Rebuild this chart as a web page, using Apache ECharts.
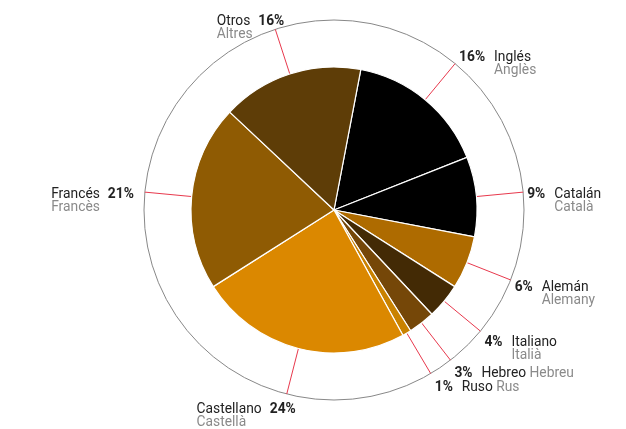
<!DOCTYPE html>
<html>
<head>
<meta charset="utf-8">
<script src="https://cdn.jsdelivr.net/npm/echarts@6/dist/echarts.min.js"></script>
<style>
html,body{margin:0;padding:0;background:#fff;}
#chart{width:626px;height:429px;}
</style>
</head>
<body>
<div id="chart"></div>
<script>
// ---- data ----
const names   = ['Inglés','Catalán','Alemán','Italiano','Hebreo','Ruso','Castellano','Francés','Otros'];
const namesCa = ['Anglès','Català','Alemany','Italià','Hebreu','Rus','Castellà','Francès','Altres'];
const values  = [16, 9, 6, 4, 3, 1, 24, 21, 16];
const colors  = ['#000000','#000000','#ae6b00','#432a05','#754708','#c98200','#db8800','#8f5b03','#5e3d07'];
const singleLine = ['Hebreo','Ruso'];

// ---- layout ----
const CX = 334, CY = 210, R_PIE = 143, R_RING = 190;
const START = 79.2;
const total = values.reduce((a,b)=>a+b,0);
const rightSide = [];
(function(){
  let cum = 0;
  for (let i=0;i<values.length;i++){
    const midClock = (90 - START) + (cum + values[i]/2)/total*360;
    rightSide.push(Math.sin(midClock*Math.PI/180) > 0);
    cum += values[i];
  }
})();

const chart = echarts.init(document.getElementById('chart'), null, {renderer:'canvas'});
const FONT = 'Roboto';
const FS = 13.8;
const LH = 13;
const option = {
  animation: false,
  backgroundColor: '#ffffff',
  series: [
    {
      type: 'pie', silent: true, z: 1,
      center: [CX, CY], radius: [0, R_RING],
      label: {show:false}, labelLine: {show:false},
      emphasis: {disabled:true},
      itemStyle: {color:'rgba(0,0,0,0)', borderColor:'#888', borderWidth:1},
      data: [{value:1, name:'ring'}]
    },
    {
      type: 'pie', z: 2,
      center: [CX, CY], radius: [0, R_PIE],
      startAngle: START, clockwise: true,
      avoidLabelOverlap: false,
      emphasis: {disabled:true},
      itemStyle: {borderColor:'#ffffff', borderWidth:1.2},
      labelLine: {show:true, length: R_RING - R_PIE, length2: 0, smooth:false, minTurnAngle: 0,
        lineStyle:{color:'#e8394d', width:1}},
      label: {
        show: true, position: 'outside',
        fontFamily: FONT, fontSize: FS, lineHeight: LH, color:'#222',
        formatter: function(p){
          const i = p.dataIndex;
          const pct = values[i] + '%';
          const two = pct.length > 2;
          if (rightSide[i]) {
            if (singleLine.indexOf(names[i]) >= 0) {
              return '{' + (two?'p2':'p1') + '|' + pct + '}{n|' + names[i] + '} {c|' + namesCa[i] + '}';
            }
            return '{' + (two?'p2':'p1') + '|' + pct + '}{n|' + names[i] + '}\n{' + (two?'s2':'s1') + '|}{c|' + namesCa[i] + '}';
          } else {
            return '{nl|' + names[i] + '}{pl|' + pct + '}\n{c|' + namesCa[i] + '}';
          }
        },
        rich: {
          p1: {fontFamily:FONT, fontSize:FS, fontWeight:'bold', color:'#222', width:27, align:'left', lineHeight:LH},
          p2: {fontFamily:FONT, fontSize:FS, fontWeight:'bold', color:'#222', width:35, align:'left', lineHeight:LH},
          pl: {fontFamily:FONT, fontSize:FS, fontWeight:'bold', color:'#222', align:'left', lineHeight:LH},
          s1: {width:27, align:'left', lineHeight:LH},
          s2: {width:35, align:'left', lineHeight:LH},
          n:  {fontFamily:FONT, fontSize:FS, color:'#222', align:'left', lineHeight:LH},
          nl: {fontFamily:FONT, fontSize:FS, color:'#222', align:'left', padding:[0,8,0,0], lineHeight:LH},
          c:  {fontFamily:FONT, fontSize:FS, color:'#8a8a8a', align:'left', lineHeight:LH}
        }
      },
      labelLayout: function(p){
        const pts = p.labelLinePoints;
        if (!pts) return {};
        const e = pts[pts.length-1];
        const dx = (e[0]-CX)/R_RING, dy = (e[1]-CY)/R_RING;
        const right = dx > 0;
        const yc = e[1] + 3.5 + 12*dy;
        let x;
        if (right) x = e[0] + 4;
        else x = Math.abs(dx) < 0.5 ? e[0] + 9 : e[0] - 11;
        return {x: x, y: yc - LH/2, align: right ? 'left' : 'right', verticalAlign: 'top',
                labelLinePoints: pts.map(q=>[q[0],q[1]])};
      },
      data: names.map((n,i)=>({name:n, value:values[i], itemStyle:{color:colors[i]}}))
    }
  ]
};
chart.setOption(option);
</script>
</body>
</html>
